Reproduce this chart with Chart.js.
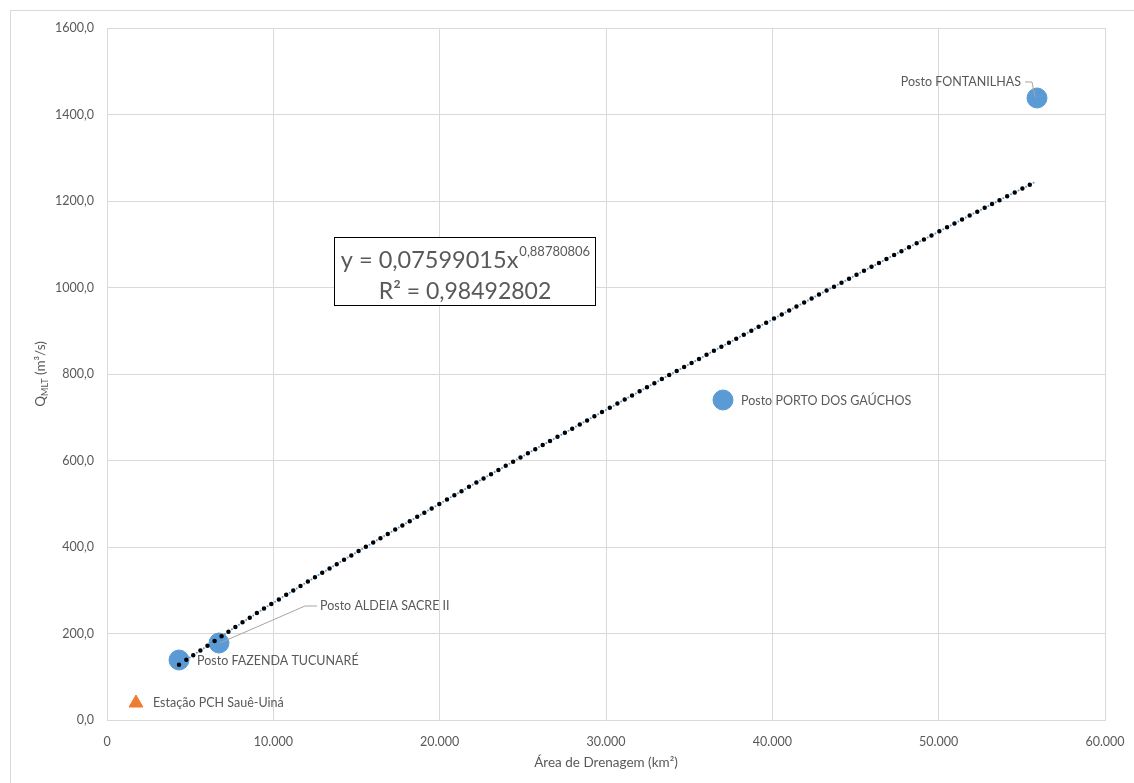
<!DOCTYPE html>
<html>
<head>
<meta charset="utf-8">
<script src="https://cdn.jsdelivr.net/npm/chart.js@4/dist/chart.umd.min.js"></script>
<style>
  html, body { margin: 0; padding: 0; background: #fff; }
  #wrap { width: 1134px; height: 783px; position: relative; }
</style>
</head>
<body>
<div id="wrap"><canvas id="vazaoChart" width="1134" height="783"></canvas></div>
<script>
// Postos fluviométricos: área de drenagem (km²) x vazão média de longo termo (m³/s)
const stationNames = ['Posto FONTANILHAS', 'Posto PORTO DOS GAÚCHOS', 'Posto ALDEIA SACRE II', 'Posto FAZENDA TUCUNARÉ'];
const stationArea = [55912, 37034, 6733, 4329];
const stationQ = [1438.2, 739.9, 178.0, 138.7];

// Estação de interesse
const pchName = 'Estação PCH Sauê-Uiná';
const pchArea = [1743];
const pchQ = [39.3];

// Linha de tendência (potência)
const trendArea = [4330, 10000, 20000, 30000, 40000, 50000, 55900];
const trendQ = [128, 271, 500, 717, 926, 1129, 1246];

const trendEquation = 'y = 0,07599015x';
const trendExponent = '0,88780806';
const trendR2 = 'R² = 0,98492802';

const FONT = 'Lato, "Open Sans", sans-serif';
const TEXT = '#595959';
const GRID = '#d9d9d9';

const toXY = (xs, ys) => xs.map((x, i) => ({ x: x, y: ys[i] }));

// Frame around the whole chart area
const framePlugin = {
    id: 'frame',
    beforeDraw(chart) {
        const ctx = chart.ctx;
        ctx.save();
        ctx.strokeStyle = GRID;
        ctx.lineWidth = 1;
        ctx.strokeRect(10.5, 10.5, chart.width - 10, chart.height - 10);
        ctx.restore();
    }
};

// Point labels with leader lines
const labelPlugin = {
    id: 'pointLabels',
    afterDatasetsDraw(chart) {
        const ctx = chart.ctx;
        const sx = chart.scales.x, sy = chart.scales.y;
        ctx.save();
        ctx.font = '12.5px ' + FONT;
        ctx.fillStyle = TEXT;
        ctx.textBaseline = 'middle';
        ctx.strokeStyle = '#a6a6a6';
        ctx.lineWidth = 1;

        const px = i => sx.getPixelForValue(stationArea[i]);
        const py = i => sy.getPixelForValue(stationQ[i]);

        // FONTANILHAS - text to the upper left, leader line down to the point
        let x = px(0), y = py(0);
        ctx.textAlign = 'right';
        ctx.fillText(stationNames[0], x - 16, y - 16);
        ctx.beginPath();
        ctx.moveTo(x - 12, y - 16);
        ctx.lineTo(x - 5, y - 16);
        ctx.lineTo(x - 2, y - 1);
        ctx.stroke();

        // PORTO DOS GAÚCHOS - right of point
        ctx.textAlign = 'left';
        ctx.fillText(stationNames[1], px(1) + 18, py(1) + 1);

        // ALDEIA SACRE II - up and right, with leader line
        x = px(2); y = py(2);
        ctx.fillText(stationNames[2], x + 101, y - 37);
        ctx.beginPath();
        ctx.moveTo(x + 1, y);
        ctx.lineTo(x + 86, y - 37);
        ctx.lineTo(x + 98, y - 37);
        ctx.stroke();

        // FAZENDA TUCUNARÉ - right of point
        ctx.fillText(stationNames[3], px(3) + 18, py(3) + 1);

        // PCH
        ctx.fillText(pchName, sx.getPixelForValue(pchArea[0]) + 17, sy.getPixelForValue(pchQ[0]));
        ctx.restore();
    }
};

// Trendline equation box
const equationPlugin = {
    id: 'equationBox',
    afterDraw(chart) {
        const ctx = chart.ctx;
        const left = 334.5, top = 237.5, w = 261, h = 68;
        ctx.save();
        ctx.fillStyle = '#fff';
        ctx.fillRect(left, top, w, h);
        ctx.strokeStyle = '#000';
        ctx.lineWidth = 1;
        ctx.strokeRect(left, top, w, h);
        ctx.fillStyle = TEXT;
        ctx.textBaseline = 'alphabetic';
        ctx.textAlign = 'left';
        ctx.font = '23.5px ' + FONT;
        const mainW = ctx.measureText(trendEquation).width;
        ctx.font = '13px ' + FONT;
        const expW = ctx.measureText(trendExponent).width;
        const startX = left + (w - mainW - expW) / 2;
        ctx.font = '23.5px ' + FONT;
        ctx.fillText(trendEquation, startX, top + 30);
        ctx.font = '13px ' + FONT;
        ctx.fillText(trendExponent, startX + mainW + 1, top + 18);
        ctx.font = '23px ' + FONT;
        ctx.textAlign = 'center';
        ctx.fillText(trendR2, left + w / 2, top + 61);
        ctx.restore();
    }
};

// Y axis title with subscript: Q_MLT (m³/s)
const yTitlePlugin = {
    id: 'yTitle',
    afterDraw(chart) {
        const ctx = chart.ctx;
        const a = chart.chartArea;
        ctx.save();
        ctx.translate(45, (a.top + a.bottom) / 2);
        ctx.rotate(-Math.PI / 2);
        ctx.fillStyle = TEXT;
        ctx.textBaseline = 'alphabetic';
        ctx.textAlign = 'left';
        const parts = [
            { t: 'Q', f: '13.5px ' + FONT, dy: 0 },
            { t: 'MLT', f: '9px ' + FONT, dy: 3 },
            { t: ' (m³/s)', f: '13.5px ' + FONT, dy: 0 }
        ];
        let total = 0;
        parts.forEach(p => { ctx.font = p.f; p.w = ctx.measureText(p.t).width; total += p.w; });
        let cx = -total / 2;
        parts.forEach(p => {
            ctx.font = p.f;
            ctx.fillText(p.t, cx, p.dy);
            cx += p.w;
        });
        ctx.restore();
    }
};

new Chart(document.getElementById('vazaoChart'), {
    type: 'scatter',
    data: {
        datasets: [
            {
                label: 'Tendência (pontos)',
                data: toXY(trendArea, trendQ),
                showLine: true,
                borderColor: '#5b9bd5',
                borderWidth: 2,
                borderDash: [0, 8.5],
                borderDashOffset: 4.25,
                borderCapStyle: 'round',
                pointRadius: 0,
                tension: 0.4,
                order: 2
            },
            {
                label: 'Tendência',
                data: toXY(trendArea, trendQ),
                showLine: true,
                borderColor: '#000000',
                borderWidth: 4.5,
                borderDash: [0, 8.5],
                borderCapStyle: 'round',
                pointRadius: 0,
                tension: 0.4,
                order: 1
            },
            {
                label: 'Postos',
                data: toXY(stationArea, stationQ),
                backgroundColor: '#5b9bd5',
                borderColor: '#5b9bd5',
                pointRadius: 10,
                order: 3
            },
            {
                label: pchName,
                data: toXY(pchArea, pchQ),
                pointStyle: 'triangle',
                backgroundColor: '#ed7d31',
                borderColor: '#ed7d31',
                pointRadius: 8,
                order: 0
            }
        ]
    },
    options: {
        responsive: false,
        animation: false,
        devicePixelRatio: 1,
        layout: {
            padding: { top: 28, right: 29, bottom: 0, left: 0 }
        },
        plugins: {
            legend: { display: false },
            title: { display: false },
            tooltip: { enabled: false }
        },
        scales: {
            x: {
                type: 'linear',
                min: 0,
                max: 60000,
                afterFit: axis => {
                    axis.height = 63;
                    axis.paddingLeft = 0;
                    axis.paddingRight = 0;
                },
                grid: { color: GRID, drawTicks: false },
                border: { color: GRID },
                ticks: {
                    stepSize: 10000,
                    color: TEXT,
                    font: { family: FONT, size: 12.5 },
                    padding: 14,
                    maxRotation: 0,
                    callback: function (value) {
                        return value === 0 ? '0' : value.toLocaleString('de-DE');
                    }
                },
                title: {
                    display: true,
                    text: 'Área de Drenagem (km²)',
                    color: TEXT,
                    font: { family: FONT, size: 13.5 },
                    padding: { top: 0, bottom: 12 }
                }
            },
            y: {
                type: 'linear',
                min: 0,
                max: 1600,
                afterFit: axis => {
                    axis.width = 107;
                    axis.paddingTop = 0;
                    axis.paddingBottom = 0;
                },
                grid: { color: GRID, drawTicks: false },
                border: { color: GRID },
                ticks: {
                    stepSize: 200,
                    color: TEXT,
                    font: { family: FONT, size: 12.5 },
                    padding: 13,
                    callback: function (value) {
                        return value.toFixed(1).replace('.', ',');
                    }
                }
            }
        }
    },
    plugins: [framePlugin, labelPlugin, equationPlugin, yTitlePlugin]
});
</script>
</body>
</html>
